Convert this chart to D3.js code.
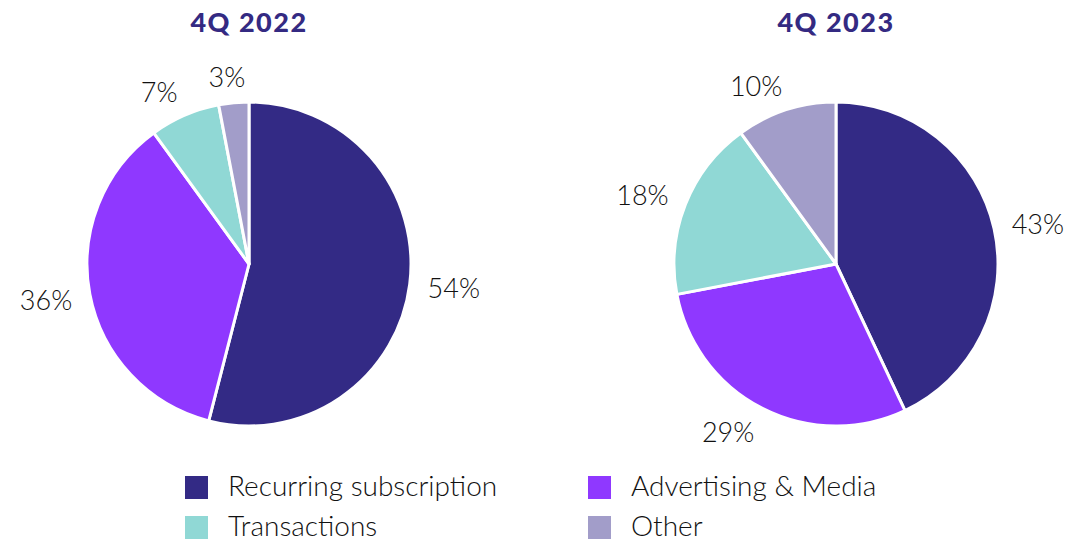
<!DOCTYPE html>
<html><head><meta charset="utf-8">
<script src="https://cdn.jsdelivr.net/npm/d3@7"></script>
<style>body{margin:0;background:#fff}svg{display:block}</style>
</head><body><svg id="c" width="1071" height="542"></svg>
<script>
const categories = ["Recurring subscription", "Advertising & Media", "Transactions", "Other"];
const titles = ["4Q 2022", "4Q 2023"];
const values2022 = [54, 36, 7, 3];
const values2023 = [43, 29, 18, 10];
const colors = ["#332a85", "#8f38ff", "#90d8d5", "#a29dc9"];

const svg = d3.select("#c");
const font = "Lato, 'Noto Sans', sans-serif";
const R = 162;
const centers = [[249, 264], [836, 264]];
const datasets = [values2022, values2023];

const pie = d3.pie().sort(null).value(d => d.v);
const arc = d3.arc().innerRadius(0).outerRadius(R);
const color = d3.scaleOrdinal().domain(categories).range(colors);

datasets.forEach((vals, i) => {
  const data = vals.map((v, j) => ({v, cat: categories[j]}));
  const g = svg.append("g").attr("transform", `translate(${centers[i][0]},${centers[i][1]})`);
  const arcs = pie(data);
  g.selectAll("path").data(arcs).join("path")
    .attr("d", arc).attr("fill", d => color(d.data.cat))
    .attr("stroke", "#fff").attr("stroke-width", 3).attr("stroke-linejoin", "round");
  arcs.forEach(a => {
    const m = (a.startAngle + a.endAngle) / 2;
    const s = Math.sin(m), c = -Math.cos(m);
    const px = s * (R + 18), py = c * (R + 18);
    const t = g.append("text").text(a.data.v + "%")
      .attr("font-family", font).attr("font-size", 27).attr("font-weight", 300)
      .attr("fill", "#111")
      .attr("text-anchor", "middle").attr("dominant-baseline", "central");
    const bb = t.node().getBBox();
    const k = Math.sign(s) * Math.min(1, Math.abs(s) * 3);
    t.attr("x", px + k * bb.width / 2).attr("y", py + c * 8);
  });
  svg.append("text").text(titles[i])
    .attr("x", centers[i][0]).attr("y", 32)
    .attr("text-anchor", "middle").attr("font-family", font)
    .attr("font-weight", "900").attr("font-size", 27).attr("letter-spacing", 1.5)
    .attr("fill", "#342a82");
});

// legend
const legendPos = [[185, 476], [588, 476], [185, 516], [588, 516]];
const legendOrder = ["Recurring subscription", "Advertising & Media", "Transactions", "Other"];
legendOrder.forEach((cat, i) => {
  const [x, y] = legendPos[i];
  svg.append("rect").attr("x", x).attr("y", y).attr("width", 23).attr("height", 23).attr("fill", color(cat));
  svg.append("text").text(cat).attr("x", x + 43).attr("y", y + 20)
    .attr("font-family", font).attr("font-weight", 300)
    .attr("font-size", 28).attr("fill", "#111");
});
</script></body></html>
